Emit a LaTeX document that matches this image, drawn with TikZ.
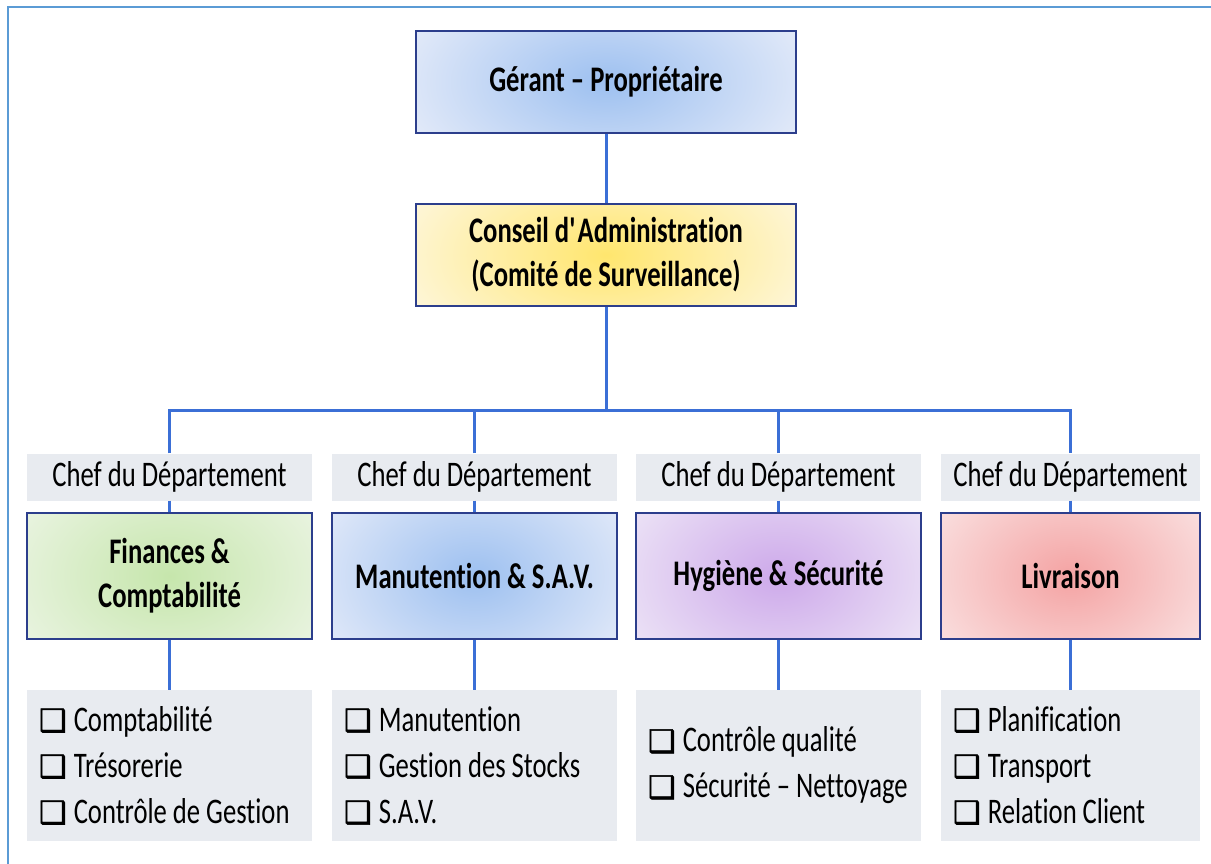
\documentclass[tikz,border=0pt]{standalone}
\usepackage{fontspec}
\setmainfont{Carlito}[FakeStretch=0.74, Ligatures=NoCommon]
\newfontfamily\symfont{DejaVu Sans}[FakeBold=1.5]
\definecolor{framecol}{HTML}{5B9BD5}
\definecolor{linecol}{HTML}{3B6FD6}
\definecolor{navy}{HTML}{2C3E8C}
\definecolor{graybox}{HTML}{E8EBF0}
\definecolor{blueC}{HTML}{9DC0F0}
\definecolor{blueE}{HTML}{EBEFFA}
\definecolor{yelC}{HTML}{FFE66E}
\definecolor{yelE}{HTML}{FEF8E6}
\definecolor{grnC}{HTML}{C6E6AC}
\definecolor{grnE}{HTML}{EFF6E9}
\definecolor{purC}{HTML}{CDA9EA}
\definecolor{purE}{HTML}{F1ECF8}
\definecolor{redC}{HTML}{F4A3A3}
\definecolor{redE}{HTML}{FBEBEB}
\newcommand\cbx[1]{\mbox{{\symfont\fontsize{31}{31}\selectfont ❑}\hspace{7pt}#1}}
\begin{document}
\begin{tikzpicture}[x=1pt,y=-1pt,
  every node/.style={font=\fontsize{36}{46}\selectfont},
  glow/.style n args={4}{fill=#2, path picture={\shade[inner color=#1, outer color=#2] (path picture bounding box.center) ellipse [x radius=#3, y radius=#4];}},
  topbox/.style={draw=navy, line width=1.5pt, minimum width=380pt, minimum height=102pt, inner sep=0pt, align=center, font=\fontsize{36}{44}\selectfont\bfseries},
  chefbox/.style={fill=graybox, minimum width=285pt, minimum height=47pt, inner sep=0pt},
  deptbox/.style={draw=navy, line width=1.5pt, minimum width=285pt, minimum height=126pt, inner sep=0pt, align=center, font=\fontsize{36}{44}\selectfont\bfseries},
  listbox/.style={fill=graybox, minimum height=151pt, text width=261pt, inner xsep=12pt, inner ysep=0pt, align=flush left},
  conn/.style={draw=linecol, line width=3pt},
  framel/.style={draw=framecol, line width=2pt}]
\useasboundingbox (0,0) rectangle (1211,864);
\draw[framel] (8,864) -- (8,7) -- (1211,7);

\node[topbox, glow={blueC}{blueE}{240pt}{130pt}] (gerant) at (606,82) {Gérant – Propriétaire};
\node[topbox, glow={yelC}{yelE}{240pt}{130pt}] (conseil) at (606,255) {Conseil d\textquotesingle Administration\\(Comité de Surveillance)};

\node[chefbox] (chef1) at (169.5,477) {Chef du Département};
\node[chefbox] (chef2) at (474.5,477) {Chef du Département};
\node[chefbox] (chef3) at (778.5,477) {Chef du Département};
\node[chefbox, minimum width=259pt] (chef4) at (1070.5,477) {Chef du Département};

\node[deptbox, glow={grnC}{grnE}{200pt}{140pt}] (dept1) at (169.5,576) {Finances \&\\Comptabilité};
\node[deptbox, glow={blueC}{blueE}{200pt}{140pt}] (dept2) at (474.5,576) {Manutention \& S.A.V.};
\node[deptbox, glow={purC}{purE}{200pt}{140pt}] (dept3) at (778.5,576) {Hygiène \& Sécurité};
\node[deptbox, minimum width=259pt, glow={redC}{redE}{190pt}{140pt}] (dept4) at (1070.5,576) {Livraison};

\node[listbox] (list1) at (169.5,765.5) {\cbx{Comptabilité}\\\cbx{Trésorerie}\\\cbx{Contrôle de Gestion}};
\node[listbox] (list2) at (474.5,765.5) {\cbx{Manutention}\\\cbx{Gestion des Stocks}\\\cbx{S.A.V.}};
\node[listbox] (list3) at (778.5,765.5) {\cbx{Contrôle qualité}\\\cbx{Sécurité – Nettoyage}};
\node[listbox, text width=235pt] (list4) at (1070.5,765.5) {\cbx{Planification}\\\cbx{Transport}\\\cbx{Relation Client}};

\coordinate (bus) at (606,410);
\draw[conn] (gerant.south) -- (conseil.north);
\draw[conn] (conseil.south) -- (bus);
\draw[conn] (chef1.north) |- (bus) -| (chef4.north);
\draw[conn] (chef2.north) -- (chef2.north |- bus);
\draw[conn] (chef3.north) -- (chef3.north |- bus);
\foreach \i in {1,2,3,4} {
  \draw[conn] (chef\i.south) -- (dept\i.north);
  \draw[conn] (dept\i.south) -- (list\i.north);
}
\end{tikzpicture}
\end{document}
